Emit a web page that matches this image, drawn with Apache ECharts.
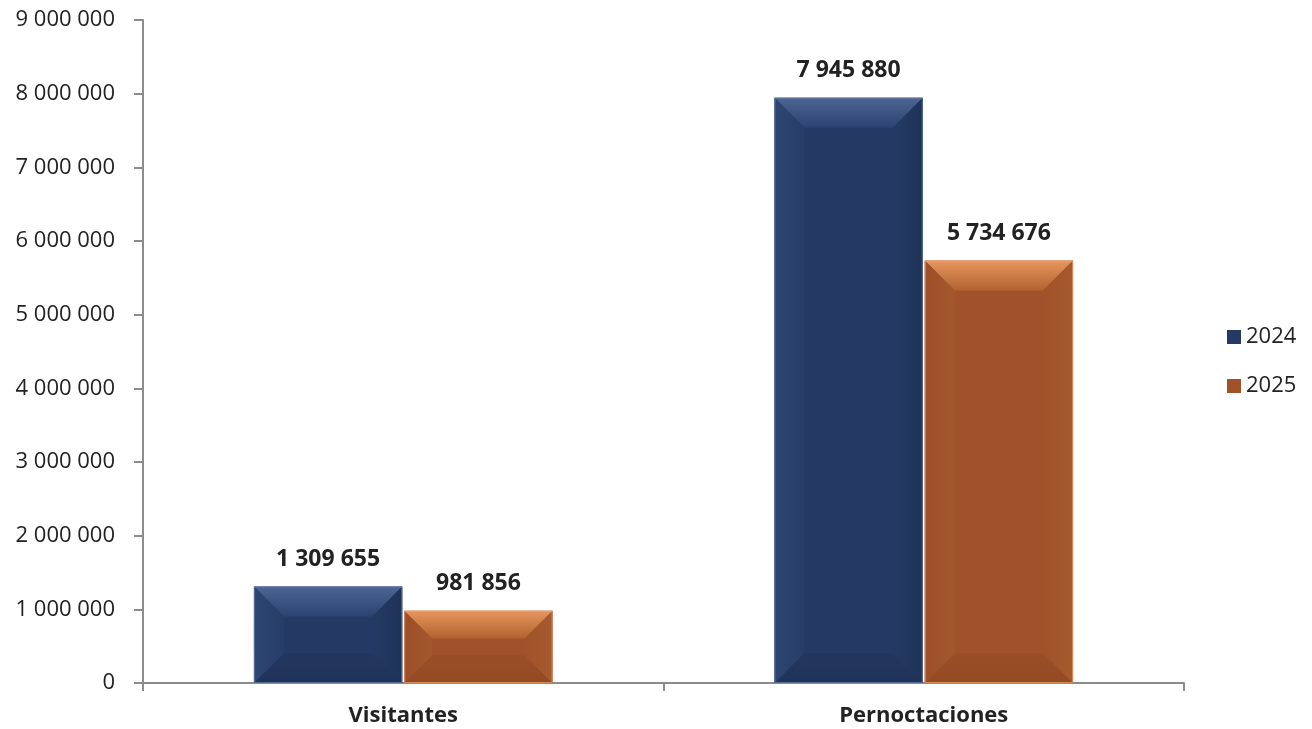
<!DOCTYPE html>
<html><head><meta charset="utf-8">
<script src="https://cdn.jsdelivr.net/npm/echarts@6/dist/echarts.min.js"></script>
<style>html,body{margin:0;padding:0;background:#fff}#c{width:1312px;height:729px}</style>
</head><body><div id="c"></div>
<script>
const categories = ['Visitantes', 'Pernoctaciones'];
const seriesNames = ['2024', '2025'];
const values2024 = [1309655, 7945880];
const values2025 = [981856, 5734676];
const yTicks = [0, 1000000, 2000000, 3000000, 4000000, 5000000, 6000000, 7000000, 8000000, 9000000];

const FONT = '"Open Sans", "Liberation Sans", sans-serif';
const palettes = [
  {main:'#243a65', topA:'#4d6594', topB:'#2c4370', bottomA:'#22375f', bottomB:'#1f335a',
   leftA:'#2e4672', leftB:'#263d68', rightA:'#233a64', rightB:'#1e3359', edge:'#6f82a8'},
  {main:'#a0532a', topA:'#e6965d', topB:'#b2622f', bottomA:'#9a4f27', bottomB:'#934a22',
   leftA:'#9c4f27', leftB:'#a4582d', rightA:'#a0532a', rightB:'#a65a2e', edge:'#eba676'}
];
function fmt(v){ return String(v).replace(/\B(?=(\d{3})+(?!\d))/g, ' '); }
const lg = (x, y, x2, y2, a, b) => new echarts.graphic.LinearGradient(x, y, x2, y2, [{offset:0, color:a},{offset:1, color:b}]);

function makeRender(si){
  const p = palettes[si];
  return function(params, api){
    const ci = api.value(0), v = api.value(1);
    const topPt = api.coord([ci, v]);
    const basePt = api.coord([ci, 0]);
    const bw = api.size([1, 0])[0];
    const barW = bw * 0.285;
    const cx = topPt[0];
    const x0 = si === 0 ? cx - barW - 1 : cx + 1;
    const x1 = x0 + barW;
    const y0 = topPt[1], y1 = basePt[1];
    const h = y1 - y0;
    const b = Math.min(30, h / 2.6, barW / 4);
    const poly = (pts, fill) => ({type:'polygon', shape:{points:pts}, style:{fill:fill}});
    return {
      type:'group',
      children:[
        {type:'rect', shape:{x:x0, y:y0, width:barW, height:h}, style:{fill:p.main}},
        poly([[x0,y0],[x1,y0],[x1-b,y0+b],[x0+b,y0+b]], lg(0,0,0,1,p.topA,p.topB)),
        poly([[x0,y1],[x1,y1],[x1-b,y1-b],[x0+b,y1-b]], lg(0,1,0,0,p.bottomB,p.bottomA)),
        poly([[x0,y0],[x0+b,y0+b],[x0+b,y1-b],[x0,y1]], lg(0,0,1,0,p.leftA,p.leftB)),
        poly([[x1,y0],[x1-b,y0+b],[x1-b,y1-b],[x1,y1]], lg(1,0,0,0,p.rightB,p.rightA)),
        {type:'rect', shape:{x:x0+0.5, y:y0+0.5, width:barW-1, height:h-1}, style:{fill:'none', stroke:p.edge, lineWidth:1, opacity:0.7}},
        {type:'text', style:{text:fmt(v), x:(x0+x1)/2, y:y0-16, align:'center', verticalAlign:'bottom',
          font:'bold 23px ' + FONT, fill:'#222'}}
      ]
    };
  };
}

const chart = echarts.init(document.getElementById('c'), null, {renderer:'canvas'});
const mk = (si, vals) => ({
  name: seriesNames[si], type:'custom', renderItem: makeRender(si),
  itemStyle:{color: palettes[si].main},
  encode:{x:0, y:1},
  data: vals.map((v, i) => [i, v])
});
chart.setOption({
  animation:false,
  grid:{left:143, right:128, top:20, bottom:46, containLabel:false},
  legend:{orient:'vertical', left:1222, top:321, itemWidth:14, itemHeight:14, itemGap:27, icon:'rect',
    data:seriesNames,
    textStyle:{fontFamily:FONT, fontSize:22, color:'#222', lineHeight:22}},
  xAxis:{type:'category', data:categories, boundaryGap:true,
    axisLine:{lineStyle:{color:'#8c8c8c', width:2}},
    axisTick:{show:true, length:8, lineStyle:{color:'#8c8c8c', width:2}},
    axisLabel:{margin:22, fontFamily:FONT, fontSize:22, fontWeight:'bold', color:'#222'}},
  yAxis:{type:'value', min:yTicks[0], max:yTicks[yTicks.length-1], interval:yTicks[1]-yTicks[0],
    splitLine:{show:false},
    axisLine:{show:true, lineStyle:{color:'#8c8c8c', width:2}},
    axisTick:{show:true, length:9, lineStyle:{color:'#8c8c8c', width:2}},
    axisLabel:{margin:28, fontFamily:FONT, fontSize:22, color:'#222', formatter:v=>fmt(v)}},
  series:[mk(0, values2024), mk(1, values2025)]
});
</script></body></html>
